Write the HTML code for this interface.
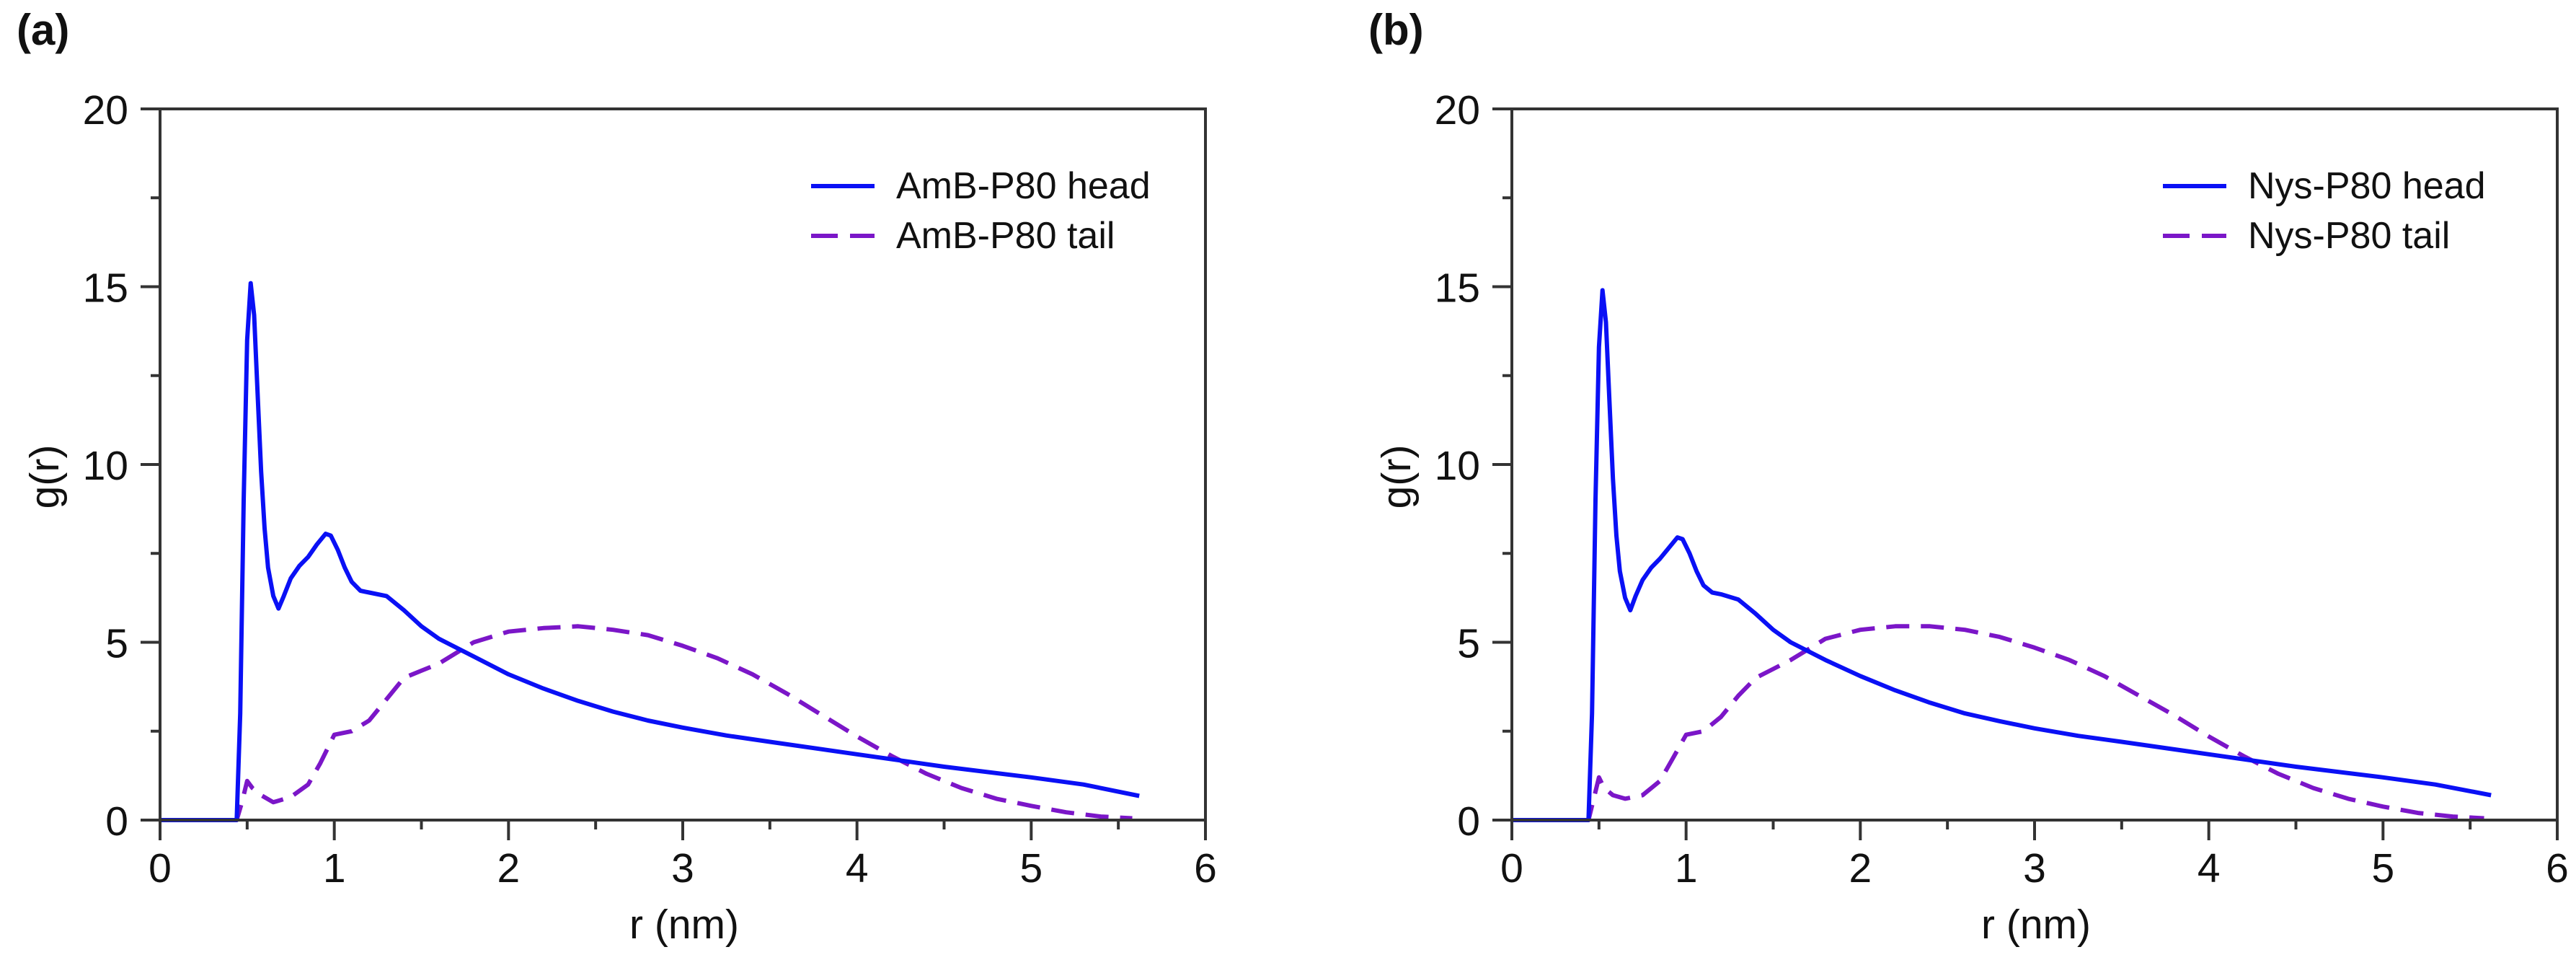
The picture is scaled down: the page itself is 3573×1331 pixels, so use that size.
<!DOCTYPE html>
<html><head><meta charset="utf-8"><style>
html,body{margin:0;padding:0;background:#fff;}
svg{display:block;font-family:"Liberation Sans",sans-serif;}
</style></head><body>
<svg id="fig" width="3573" height="1331" viewBox="0 0 3573 1331"></svg>
<script>
const xTicks = [0,1,2,3,4,5,6];
const yTicks = [0,5,10,15,20];
const headRA = [0,0.44,0.46,0.48,0.5,0.52,0.54,0.56,0.58,0.6,0.62,0.65,0.68,0.71,0.75,0.8,0.85,0.9,0.95,0.98,1.02,1.06,1.1,1.15,1.2,1.3,1.4,1.5,1.6,1.8,2.0,2.2,2.4,2.6,2.8,3.0,3.25,3.5,4.0,4.5,5.0,5.3,5.62];
const headGA = [0,0,3,9,13.5,15.1,14.2,12,9.8,8.2,7.1,6.3,5.95,6.3,6.8,7.15,7.4,7.75,8.05,8.0,7.6,7.1,6.7,6.45,6.4,6.3,5.9,5.45,5.1,4.6,4.1,3.7,3.35,3.05,2.8,2.6,2.38,2.2,1.85,1.5,1.2,1.0,0.68];
const tailRA = [0,0.44,0.47,0.5,0.53,0.58,0.65,0.75,0.85,0.92,1.0,1.1,1.2,1.3,1.4,1.5,1.6,1.7,1.8,2.0,2.2,2.4,2.6,2.8,3.0,3.2,3.4,3.6,3.8,4.0,4.2,4.4,4.6,4.8,5.0,5.2,5.4,5.58];
const tailGA = [0,0,0.5,1.1,0.9,0.7,0.5,0.65,1.0,1.6,2.4,2.5,2.8,3.4,4.0,4.2,4.4,4.7,5.0,5.3,5.4,5.45,5.35,5.2,4.9,4.55,4.1,3.55,2.95,2.35,1.8,1.3,0.9,0.6,0.4,0.22,0.1,0.05];
const headRB = [0,0.44,0.46,0.48,0.5,0.52,0.54,0.56,0.58,0.6,0.62,0.65,0.68,0.71,0.75,0.8,0.85,0.9,0.95,0.98,1.02,1.06,1.1,1.15,1.2,1.3,1.4,1.5,1.6,1.8,2.0,2.2,2.4,2.6,2.8,3.0,3.25,3.5,4.0,4.5,5.0,5.3,5.62];
const headGB = [0,0,3,9,13.3,14.9,14.0,11.8,9.6,8.0,7.0,6.25,5.9,6.3,6.75,7.1,7.35,7.65,7.95,7.9,7.5,7.0,6.6,6.4,6.35,6.2,5.8,5.35,5.0,4.5,4.05,3.65,3.3,3.0,2.78,2.58,2.37,2.2,1.85,1.5,1.2,1.0,0.7];
const tailRB = [0,0.44,0.47,0.5,0.53,0.58,0.65,0.75,0.85,0.92,1.0,1.1,1.2,1.3,1.4,1.5,1.6,1.7,1.8,2.0,2.2,2.4,2.6,2.8,3.0,3.2,3.4,3.6,3.8,4.0,4.2,4.4,4.6,4.8,5.0,5.2,5.4,5.58];
const tailGB = [0,0,0.6,1.2,0.9,0.7,0.6,0.7,1.1,1.7,2.4,2.5,2.9,3.5,4.0,4.25,4.5,4.8,5.1,5.35,5.45,5.45,5.35,5.15,4.85,4.5,4.05,3.5,2.95,2.35,1.8,1.3,0.9,0.6,0.38,0.2,0.1,0.05];

const NS = "http://www.w3.org/2000/svg";
const svg = document.getElementById('fig');
function mk(tag, attrs, parent){
  const e = document.createElementNS(NS, tag);
  for (const k in attrs) e.setAttribute(k, attrs[k]);
  (parent||svg).appendChild(e);
  return e;
}
function panel(id, x0, x1, letter, headName, tailName, hr, hg, tr, tg){
  const yT = 151, yB = 1137;
  const sx = v => x0 + (x1 - x0) * v / 6;
  const sy = v => yB - (yB - yT) * v / 20;
  const g = mk('g', {});
  
  
  const lab = mk('text', {x: x0 - 199, y: 62, 'font-size': 60, 'font-weight': 'bold', fill: '#111'}, g);
  lab.textContent = '(' + letter + ')';
  
  
  const pts = (r, v) => r.map((a, i) => sx(a).toFixed(1) + ',' + sy(v[i]).toFixed(1)).join(' ');
  const tl = mk('polyline', {points: pts(tr, tg), fill: 'none', stroke: '#7b16c8', 'stroke-width': 6, 'stroke-dasharray': '32 16', 'stroke-linejoin': 'round'}, g);
  
  
  const hl = mk('polyline', {points: pts(hr, hg), fill: 'none', stroke: '#0a10f5', 'stroke-width': 6, 'stroke-linejoin': 'round'}, g);
  
  
  const fr = mk('rect', {x: x0, y: yT, width: x1 - x0, height: yB - yT, fill: 'none', stroke: '#333', 'stroke-width': 4}, g);
  
  
  for (let v = 0; v <= 6.001; v += 0.5) {
    const maj = Math.abs(v - Math.round(v)) < 1e-6;
    const t = mk('line', {x1: sx(v), x2: sx(v), y1: yB, y2: yB + (maj ? 28 : 13), stroke: '#333', 'stroke-width': 4}, g);
    
    
  }
  xTicks.forEach(v => {
    const t = mk('text', {x: sx(v), y: 1223, 'font-size': 57, 'text-anchor': 'middle', fill: '#111'}, g);
    t.textContent = v;
    
    
  });
  for (let v = 0; v <= 20.001; v += 2.5) {
    const maj = Math.abs(v / 5 - Math.round(v / 5)) < 1e-6;
    const t = mk('line', {x1: x0 - (maj ? 27 : 13), x2: x0, y1: sy(v), y2: sy(v), stroke: '#333', 'stroke-width': 4}, g);
    
    
  }
  yTicks.forEach(v => {
    const t = mk('text', {x: x0 - 44, y: sy(v) + 21, 'font-size': 57, 'text-anchor': 'end', fill: '#111'}, g);
    t.textContent = v;
    
    
  });
  const xt = mk('text', {x: sx(3) + 2, y: 1301, 'font-size': 57, 'text-anchor': 'middle', fill: '#111'}, g);
  xt.textContent = 'r (nm)';
  
  
  const yt = mk('text', {x: 0, y: 0, 'font-size': 57, 'text-anchor': 'middle', fill: '#111', transform: 'translate(' + (x0 - 141) + ',' + 661 + ') rotate(-90)'}, g);
  yt.textContent = 'g(r)';
  
  
  const lx = x0 + 903;
  const l1 = mk('line', {x1: lx, x2: lx + 88, y1: 258, y2: 258, stroke: '#0a10f5', 'stroke-width': 6}, g);
  
  
  const t1 = mk('text', {x: lx + 118, y: 275, 'font-size': 52, fill: '#111'}, g);
  t1.textContent = headName;
  
  
  const l2 = mk('line', {x1: lx, x2: lx + 88, y1: 327, y2: 327, stroke: '#7b16c8', 'stroke-width': 6, 'stroke-dasharray': '37 17'}, g);
  
  
  const t2 = mk('text', {x: lx + 118, y: 344, 'font-size': 52, fill: '#111'}, g);
  t2.textContent = tailName;
  
  
}
panel('a', 222, 1672, 'a', 'AmB-P80 head', 'AmB-P80 tail', headRA, headGA, tailRA, tailGA);
panel('b', 2097, 3547, 'b', 'Nys-P80 head', 'Nys-P80 tail', headRB, headGB, tailRB, tailGB);
</script>
</body></html>
